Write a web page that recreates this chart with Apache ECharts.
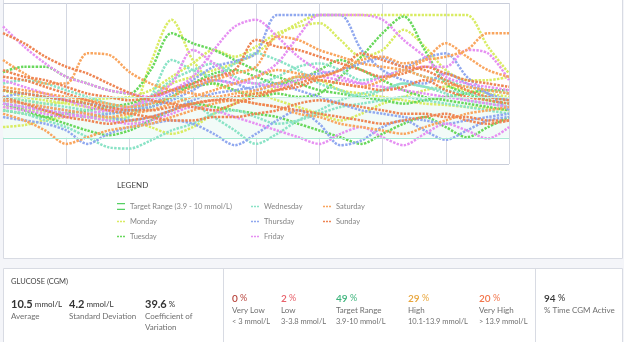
<!DOCTYPE html>
<html>
<head>
<meta charset="utf-8">
<script src="https://cdn.jsdelivr.net/npm/echarts@6/dist/echarts.min.js"></script>
<style>
  html, body { margin: 0; padding: 0; background: #ffffff; }
  #chart { width: 624px; height: 342px; }
</style>
</head>
<body>
<div id="chart"></div>
<script>
// Hour of day for each reading (0 = midnight, 24 = next midnight)
const hours = [0, 1, 2, 3, 4, 5, 6, 7, 8, 9, 10, 11, 12, 13, 14, 15, 16, 17, 18, 19, 20, 21, 22, 23, 24];

// Glucose traces (mmol/L), one row per day, grouped by weekday
const monday = [
  [8.5, 8.2, 7.8, 7.5, 7.0, 6.8, 7.2, 15.0, 21.5, 15.5, 12.0, 11.0, 10.5, 11.5, 13.0, 12.5, 11.0, 10.5, 10.0, 9.5, 9.0, 8.8, 8.5, 8.3, 8.0],
  [11.0, 10.0, 9.5, 9.0, 8.5, 8.0, 8.5, 10.0, 12.0, 13.0, 14.0, 15.0, 16.5, 19.0, 21.0, 22.2, 22.2, 22.2, 22.2, 22.2, 22.2, 22.2, 22.2, 17.5, 13.5],
  [5.5, 5.8, 6.5, 7.0, 7.2, 7.0, 6.5, 5.5, 4.5, 5.5, 7.5, 9.0, 10.5, 9.5, 8.5, 7.5, 6.5, 7.5, 9.0, 10.0, 11.0, 11.5, 11.0, 10.5, 10.0],
  [10.0, 9.5, 9.0, 9.2, 9.5, 9.8, 10.0, 11.0, 13.0, 15.0, 17.0, 16.0, 17.5, 19.5, 20.5, 21.0, 18.5, 16.0, 17.0, 20.0, 17.5, 14.0, 12.5, 12.5, 13.0]
];
const tuesday = [
  [13.7, 14.5, 14.5, 13.0, 12.0, 11.0, 10.5, 14.0, 19.5, 18.0, 17.0, 15.5, 14.0, 13.0, 12.0, 11.0, 10.5, 10.0, 9.5, 9.0, 9.5, 10.0, 10.5, 11.0, 11.0],
  [8.0, 7.5, 7.0, 7.5, 8.0, 8.5, 9.0, 10.0, 11.0, 11.5, 12.0, 11.0, 10.0, 10.5, 10.0, 10.5, 13.0, 16.0, 19.5, 22.0, 17.0, 12.0, 10.5, 9.5, 9.0],
  [9.0, 8.0, 7.0, 6.0, 5.0, 4.3, 5.0, 6.5, 8.0, 9.0, 8.5, 8.0, 7.5, 7.0, 6.0, 5.0, 4.0, 3.0, 4.5, 6.0, 7.0, 5.5, 4.0, 5.5, 7.0],
  [11.0, 10.5, 10.0, 9.5, 9.0, 8.5, 8.0, 8.5, 10.0, 12.0, 13.5, 14.0, 13.0, 12.0, 12.5, 14.0, 15.5, 14.0, 12.5, 11.0, 10.0, 9.5, 9.0, 8.5, 8.0]
];
const wednesday = [
  [9.0, 8.5, 8.0, 7.5, 7.0, 6.5, 7.0, 10.0, 15.5, 14.0, 13.0, 15.0, 16.5, 15.5, 14.0, 12.0, 11.0, 10.0, 11.0, 12.0, 11.5, 10.5, 9.5, 9.0, 8.5],
  [8.0, 7.5, 6.5, 5.5, 4.0, 2.5, 2.3, 3.5, 5.0, 6.0, 7.5, 8.0, 7.0, 6.0, 6.5, 7.5, 8.5, 9.0, 9.5, 10.0, 9.5, 9.0, 8.5, 8.0, 7.5],
  [10.0, 9.5, 9.0, 8.5, 8.0, 7.5, 8.0, 9.0, 10.0, 9.0, 7.0, 5.0, 3.0, 4.5, 6.5, 8.0, 9.5, 10.5, 11.0, 12.0, 11.5, 11.0, 10.5, 10.0, 9.5],
  [12.0, 12.5, 12.0, 11.0, 10.0, 9.0, 8.5, 10.0, 12.5, 14.0, 15.0, 13.0, 12.0, 13.0, 14.5, 15.0, 14.0, 12.5, 13.0, 14.0, 13.0, 12.5, 11.5, 11.0, 10.5]
];
const thursday = [
  [9.0, 8.5, 8.0, 7.5, 7.0, 7.5, 8.0, 9.0, 10.5, 12.5, 14.5, 15.3, 16.5, 22.2, 22.2, 22.2, 22.2, 17.0, 14.0, 12.5, 12.0, 13.5, 12.0, 10.5, 9.5],
  [10.0, 10.5, 10.0, 9.5, 9.0, 8.5, 8.0, 8.5, 9.5, 11.0, 12.5, 12.0, 11.0, 12.0, 13.0, 13.5, 14.0, 15.0, 15.8, 14.5, 15.8, 16.5, 13.0, 10.5, 8.0],
  [7.0, 6.5, 6.0, 5.0, 3.0, 4.5, 5.5, 6.0, 6.5, 6.0, 4.5, 2.8, 4.5, 6.5, 8.0, 6.0, 2.8, 3.5, 5.5, 6.5, 5.0, 3.6, 5.0, 6.5, 7.0],
  [9.5, 9.0, 8.5, 8.0, 7.5, 7.0, 6.5, 7.0, 8.0, 9.5, 10.5, 11.0, 11.5, 12.0, 11.0, 10.0, 9.0, 8.0, 7.5, 7.0, 6.5, 6.0, 6.5, 7.0, 7.5]
];
const friday = [
  [20.5, 17.5, 15.0, 13.0, 12.0, 11.0, 10.5, 10.0, 11.0, 13.0, 17.0, 20.5, 21.5, 19.0, 16.0, 14.0, 13.0, 12.0, 11.5, 11.0, 10.5, 10.0, 9.5, 9.0, 8.5],
  [8.5, 8.0, 7.5, 7.0, 7.5, 8.0, 8.5, 9.5, 11.0, 12.0, 12.5, 12.0, 13.0, 15.0, 19.0, 22.2, 22.2, 22.2, 21.5, 18.5, 16.0, 13.0, 12.0, 11.5, 11.0],
  [9.0, 8.5, 8.0, 7.5, 7.0, 6.5, 6.0, 6.5, 7.5, 8.5, 8.0, 7.0, 6.0, 5.0, 4.0, 3.0, 4.5, 5.5, 4.0, 2.8, 4.5, 6.0, 5.0, 3.8, 5.5],
  [12.5, 11.5, 10.5, 9.5, 8.5, 8.0, 8.5, 10.0, 12.0, 17.0, 15.0, 12.5, 12.0, 11.5, 12.5, 13.0, 12.5, 12.0, 13.0, 14.0, 14.5, 14.5, 17.0, 16.5, 12.5]
];
const saturday = [
  [15.5, 13.5, 12.0, 12.0, 16.5, 16.3, 13.7, 12.0, 11.0, 10.5, 10.0, 10.5, 11.0, 12.0, 13.0, 12.5, 12.0, 11.5, 12.5, 14.0, 15.5, 18.0, 16.0, 14.0, 13.0],
  [9.5, 9.0, 8.5, 8.0, 7.5, 7.0, 7.5, 8.0, 9.0, 10.0, 11.0, 12.0, 13.0, 14.0, 13.5, 13.0, 14.0, 15.5, 16.0, 15.0, 15.5, 16.0, 17.0, 19.5, 19.5],
  [7.5, 6.5, 5.0, 3.0, 4.0, 5.0, 5.5, 6.0, 7.0, 8.0, 9.0, 9.5, 9.0, 8.5, 7.5, 7.0, 6.0, 5.5, 5.0, 4.5, 5.5, 6.5, 7.5, 8.0, 8.5],
  [11.5, 11.0, 10.5, 10.0, 9.5, 9.0, 8.5, 9.0, 10.0, 11.5, 12.5, 13.5, 14.5, 19.0, 18.5, 17.0, 16.0, 15.0, 14.5, 14.0, 13.0, 12.0, 11.5, 11.0, 10.5]
];
const sunday = [
  [19.5, 18.0, 16.0, 14.5, 13.5, 12.0, 10.6, 9.5, 9.0, 8.5, 8.0, 9.0, 10.0, 11.0, 12.0, 13.0, 14.0, 16.5, 15.5, 14.5, 14.0, 12.5, 11.0, 10.0, 9.5],
  [11.0, 10.5, 10.0, 9.5, 9.0, 8.0, 7.5, 7.0, 6.5, 6.5, 7.0, 7.0, 7.5, 8.0, 9.0, 9.5, 9.0, 8.5, 8.0, 7.5, 7.5, 7.0, 7.0, 6.5, 6.5],
  [13.0, 12.5, 11.5, 10.5, 9.5, 8.5, 8.0, 8.0, 8.5, 9.0, 9.5, 10.0, 10.5, 11.0, 11.5, 12.5, 12.0, 11.5, 11.0, 11.5, 12.5, 11.0, 10.0, 9.5, 9.0],
  [10.0, 9.0, 8.0, 7.0, 6.5, 6.0, 6.5, 7.0, 8.0, 9.0, 9.5, 9.5, 9.0, 8.5, 8.0, 7.5, 7.0, 6.5, 6.0, 6.5, 7.0, 7.5, 6.5, 6.0, 6.5],
  [14.0, 13.0, 12.5, 11.5, 10.5, 10.0, 9.5, 10.0, 11.0, 12.0, 13.0, 14.0, 18.5, 17.5, 17.0, 16.0, 15.0, 14.0, 13.0, 13.5, 14.5, 13.5, 12.5, 12.0, 11.5]
];

const weekdays = ['Monday', 'Tuesday', 'Wednesday', 'Thursday', 'Friday', 'Saturday', 'Sunday'];
const weekdayColors = ['#d9ec62', '#68d85c', '#8ae3c6', '#90a8ef', '#e690f2', '#f9a55e', '#ee8553'];
const weekdayTraces = [monday, tuesday, wednesday, thursday, friday, saturday, sunday];

const targetName = 'Target Range (3.9 - 10 mmol/L)';
const targetLow = 3.9;
const targetHigh = 10;

// Summary figures shown under the chart
const glucoseStats = [
  { value: '10.5', unit: ' mmol/L', label: ['Average'] },
  { value: '4.2', unit: ' mmol/L', label: ['Standard Deviation'] },
  { value: '39.6', unit: ' %', label: ['Coefficient of', 'Variation'] }
];
const rangeStats = [
  { value: '0', color: '#b8453d', label: 'Very Low', range: '< 3 mmol/L' },
  { value: '2', color: '#e8606a', label: 'Low', range: '3-3.8 mmol/L' },
  { value: '49', color: '#3db47c', label: 'Target Range', range: '3.9-10 mmol/L' },
  { value: '29', color: '#e9a63c', label: 'High', range: '10.1-13.9 mmol/L' },
  { value: '20', color: '#f2764c', label: 'Very High', range: '> 13.9 mmol/L' }
];
const activeStat = { value: '94', label: '% Time CGM Active' };

const FONT = 'Lato, "Open Sans", sans-serif';
const dashIcon = 'path://M0,0H2V1.4H0Z M3,0H5V1.4H3Z M6,0H8V1.4H6Z';
const bandIcon = 'path://M0,0H8V1.2H0Z M0,5.8H8V7H0Z';

const series = [{
  name: targetName,
  type: 'line',
  data: [],
  color: '#55d062',
  silent: true,
  markArea: {
    silent: true,
    itemStyle: { color: '#f2fbf8' },
    data: [[{ yAxis: targetLow }, { yAxis: targetHigh }]]
  },
  markLine: {
    silent: true,
    symbol: 'none',
    label: { show: false },
    lineStyle: { color: '#a9e9d4', type: 'solid', width: 1 },
    data: [{ yAxis: targetLow }, { yAxis: targetHigh, lineStyle: { color: '#cdf1e5' } }]
  }
}];

weekdays.forEach((day, d) => {
  weekdayTraces[d].forEach((trace) => {
    series.push({
      name: day,
      type: 'line',
      color: weekdayColors[d],
      symbol: 'none',
      smooth: 0.3,
      silent: true,
      data: trace.map((v, i) => [hours[i], v]),
      lineStyle: { color: weekdayColors[d], width: 2.5, type: [2.4, 1.3] }
    });
  });
});

function legendBlock(left, names) {
  return {
    orient: 'vertical',
    left: left,
    top: 202.5,
    padding: 0,
    itemWidth: 8,
    itemHeight: 8,
    itemGap: 7,
    selectedMode: false,
    textStyle: { color: '#858585', fontSize: 7.5, fontFamily: FONT },
    data: names.map((n) => ({ name: n, icon: n === targetName ? bandIcon : dashIcon }))
  };
}

// Static frame and summary panel
const line = (x1, y1, x2, y2) => ({
  type: 'line', silent: true,
  shape: { x1, y1, x2, y2 },
  style: { stroke: '#d8dbe3', lineWidth: 1 }
});
const txt = (x, y, text, font, fill, rich) => ({
  type: 'text', silent: true, x, y,
  style: { text, font, fill, verticalAlign: 'middle', rich }
});

const graphics = [
  { type: 'rect', silent: true, shape: { x: 0, y: 258.5, width: 624, height: 10 }, style: { fill: '#f4f5f9' } },
  { type: 'rect', silent: true, shape: { x: 0, y: 0, width: 3, height: 342 }, style: { fill: '#f4f5f9' } },
  { type: 'rect', silent: true, shape: { x: 623, y: 0, width: 1, height: 342 }, style: { fill: '#f4f5f9' } },
  line(3.5, 0, 3.5, 258.5), line(622.5, 0, 622.5, 258.5), line(3.5, 258.5, 622.5, 258.5),
  line(3.5, 268.5, 622.5, 268.5), line(3.5, 268.5, 3.5, 342), line(622.5, 268.5, 622.5, 342),
  line(223.5, 268.5, 223.5, 342), line(535.5, 268.5, 535.5, 342),
  txt(117, 185, 'LEGEND', '8px ' + FONT, '#444'),
  txt(11, 282, 'GLUCOSE (CGM)', '7.5px ' + FONT, '#444')
];

const statX = [11, 69, 145];
glucoseStats.forEach((s, i) => {
  graphics.push(txt(statX[i], 304, '{v|' + s.value + '}{u|' + s.unit + '}', null, '#333', {
    v: { fontSize: 11, fontWeight: 'bold', fontFamily: FONT, fill: '#333' },
    u: { fontSize: 8, fontFamily: FONT, fill: '#333' }
  }));
  s.label.forEach((l, j) => graphics.push(txt(statX[i], 316.5 + j * 11, l, '8px ' + FONT, '#6f6f6f')));
});

const rangeX = [232, 281, 336, 408, 479];
rangeStats.forEach((s, i) => {
  graphics.push(txt(rangeX[i], 298.5, '{v|' + s.value + '}{u| %}', null, s.color, {
    v: { fontSize: 10, fontWeight: 600, fontFamily: FONT, fill: s.color },
    u: { fontSize: 9, fontFamily: FONT, fill: s.color }
  }));
  graphics.push(txt(rangeX[i], 310.5, s.label, '8px ' + FONT, '#6f6f6f'));
  graphics.push(txt(rangeX[i], 322, s.range, '7.5px ' + FONT, '#6f6f6f'));
});
graphics.push(txt(544, 298.5, '{v|' + activeStat.value + '}{u| %}', null, '#333', {
  v: { fontSize: 10, fontWeight: 600, fontFamily: FONT, fill: '#333' },
  u: { fontSize: 9, fontFamily: FONT, fill: '#333' }
}));
graphics.push(txt(544, 310.5, activeStat.label, '8px ' + FONT, '#6f6f6f'));

const chart = echarts.init(document.getElementById('chart'), null, { renderer: 'canvas' });
chart.setOption({
  backgroundColor: '#ffffff',
  animation: false,
  grid: { left: 3, right: 115, top: 3, bottom: 178, containLabel: false },
  xAxis: {
    type: 'value', min: 0, max: 24, interval: 3,
    axisLine: { show: false }, axisTick: { show: false }, axisLabel: { show: false },
    splitLine: { show: true, lineStyle: { color: '#d3d7e1', width: 1 } }
  },
  yAxis: {
    type: 'value', min: 0, max: 24, interval: 24,
    axisLine: { show: false }, axisTick: { show: false }, axisLabel: { show: false },
    splitLine: { show: true, lineStyle: { color: '#c9cdd9', width: 1 } }
  },
  legend: [
    legendBlock(117, [targetName, 'Monday', 'Tuesday']),
    legendBlock(251, ['Wednesday', 'Thursday', 'Friday']),
    legendBlock(323, ['Saturday', 'Sunday'])
  ],
  graphic: { elements: graphics },
  series: series
});
</script>
</body>
</html>
